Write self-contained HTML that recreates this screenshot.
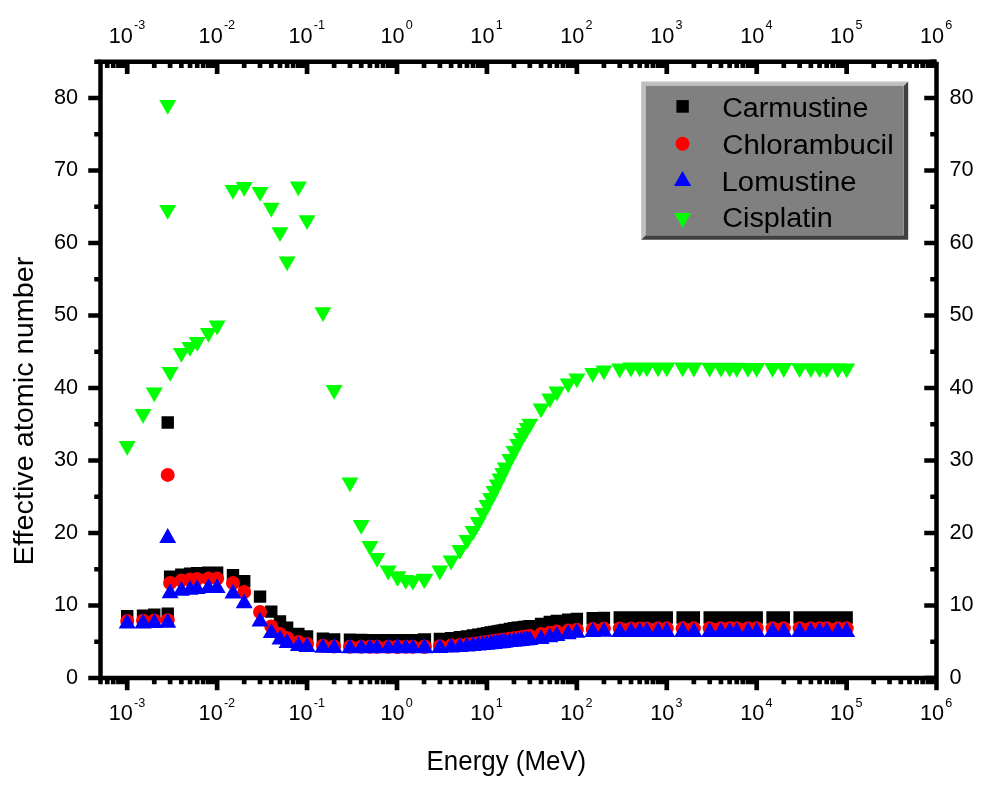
<!DOCTYPE html>
<html lang="en"><head><meta charset="utf-8"><title>Effective atomic number vs Energy</title>
<style>html,body{margin:0;padding:0;background:#fff}body{width:1000px;height:790px;overflow:hidden}svg{display:block}</style>
</head><body>
<svg width="1000" height="790" viewBox="0 0 1000 790" font-family="'Liberation Sans', sans-serif" fill="#000">
<rect width="1000" height="790" fill="#fff"/>
<path fill="#000" d="M121 610h12.4v12.4h-12.4zM136.84 609.4h12.4v12.4h-12.4zM148.07 608.4h12.4v12.4h-12.4zM161.52 607.4h12.4v12.4h-12.4zM161.52 416.3h12.4v12.4h-12.4zM163.91 570.6h12.4v12.4h-12.4zM175.14 568.6h12.4v12.4h-12.4zM183.86 567.6h12.4v12.4h-12.4zM190.98 567h12.4v12.4h-12.4zM202.21 566.4h12.4v12.4h-12.4zM210.93 566.4h12.4v12.4h-12.4zM226.77 569h12.4v12.4h-12.4zM238 575h12.4v12.4h-12.4zM253.84 590.4h12.4v12.4h-12.4zM265.07 605.4h12.4v12.4h-12.4zM273.79 615.2h12.4v12.4h-12.4zM280.91 621.5h12.4v12.4h-12.4zM292.14 627.8h12.4v12.4h-12.4zM300.86 630.2h12.4v12.4h-12.4zM316.7 632.4h12.4v12.4h-12.4zM327.93 633.2h12.4v12.4h-12.4zM343.77 633.5h12.4v12.4h-12.4zM355 633.8h12.4v12.4h-12.4zM363.72 634h12.4v12.4h-12.4zM370.84 634h12.4v12.4h-12.4zM382.07 634h12.4v12.4h-12.4zM390.79 634h12.4v12.4h-12.4zM391.64 634h12.4v12.4h-12.4zM399.51 634h12.4v12.4h-12.4zM406.63 634h12.4v12.4h-12.4zM417.86 633.2h12.4v12.4h-12.4zM418.71 633.18h12.4v12.4h-12.4zM433.7 632.75h12.4v12.4h-12.4zM444.93 632h12.4v12.4h-12.4zM453.65 631h12.4v12.4h-12.4zM460.77 630.2h12.4v12.4h-12.4zM466.79 629.29h12.4v12.4h-12.4zM472 628.5h12.4v12.4h-12.4zM476.61 627.71h12.4v12.4h-12.4zM480.72 627h12.4v12.4h-12.4zM484.44 626.37h12.4v12.4h-12.4zM487.84 625.79h12.4v12.4h-12.4zM490.97 625.25h12.4v12.4h-12.4zM493.86 624.76h12.4v12.4h-12.4zM496.56 624.3h12.4v12.4h-12.4zM499.08 623.73h12.4v12.4h-12.4zM503.68 622.7h12.4v12.4h-12.4zM507.79 622.1h12.4v12.4h-12.4zM511.51 621.6h12.4v12.4h-12.4zM514.91 621.2h12.4v12.4h-12.4zM518.04 620.8h12.4v12.4h-12.4zM520.93 620.4h12.4v12.4h-12.4zM523.63 620.1h12.4v12.4h-12.4zM534.86 617.75h12.4v12.4h-12.4zM543.58 615.8h12.4v12.4h-12.4zM550.7 614.75h12.4v12.4h-12.4zM561.93 613.5h12.4v12.4h-12.4zM570.65 612.8h12.4v12.4h-12.4zM586.49 612h12.4v12.4h-12.4zM597.72 611.75h12.4v12.4h-12.4zM613.56 611.3h12.4v12.4h-12.4zM624.79 611.3h12.4v12.4h-12.4zM633.51 611.3h12.4v12.4h-12.4zM640.63 611.3h12.4v12.4h-12.4zM651.86 611.3h12.4v12.4h-12.4zM660.58 611.3h12.4v12.4h-12.4zM676.42 611.3h12.4v12.4h-12.4zM687.65 611.3h12.4v12.4h-12.4zM703.49 611.3h12.4v12.4h-12.4zM714.72 611.3h12.4v12.4h-12.4zM723.44 611.3h12.4v12.4h-12.4zM730.56 611.3h12.4v12.4h-12.4zM741.79 611.3h12.4v12.4h-12.4zM750.51 611.3h12.4v12.4h-12.4zM766.35 611.3h12.4v12.4h-12.4zM777.58 611.3h12.4v12.4h-12.4zM793.42 611.3h12.4v12.4h-12.4zM804.65 611.3h12.4v12.4h-12.4zM813.37 611.3h12.4v12.4h-12.4zM820.49 611.3h12.4v12.4h-12.4zM831.72 611.3h12.4v12.4h-12.4zM840.44 611.3h12.4v12.4h-12.4z"/>
<g fill="#f00"><circle cx="127.2" cy="621" r="7"/><circle cx="143.04" cy="620.8" r="7"/><circle cx="154.27" cy="620.5" r="7"/><circle cx="167.72" cy="620.2" r="7"/><circle cx="167.72" cy="474.9" r="7"/><circle cx="170.11" cy="583" r="7"/><circle cx="181.34" cy="580.6" r="7"/><circle cx="190.06" cy="579.6" r="7"/><circle cx="197.18" cy="579" r="7"/><circle cx="208.41" cy="578.6" r="7"/><circle cx="217.13" cy="578.6" r="7"/><circle cx="232.97" cy="583" r="7"/><circle cx="244.2" cy="592" r="7"/><circle cx="260.04" cy="612" r="7"/><circle cx="271.27" cy="626.4" r="7"/><circle cx="279.99" cy="634" r="7"/><circle cx="287.11" cy="638" r="7"/><circle cx="298.34" cy="642" r="7"/><circle cx="307.06" cy="644" r="7"/><circle cx="322.9" cy="645.75" r="7"/><circle cx="334.13" cy="646.5" r="7"/><circle cx="349.97" cy="646.7" r="7"/><circle cx="361.2" cy="646.7" r="7"/><circle cx="369.92" cy="646.7" r="7"/><circle cx="377.04" cy="646.7" r="7"/><circle cx="388.27" cy="646.7" r="7"/><circle cx="396.99" cy="646.7" r="7"/><circle cx="397.84" cy="646.7" r="7"/><circle cx="405.71" cy="646.7" r="7"/><circle cx="412.83" cy="646.7" r="7"/><circle cx="424.06" cy="646.7" r="7"/><circle cx="424.91" cy="646.68" r="7"/><circle cx="439.9" cy="646.3" r="7"/><circle cx="451.13" cy="645.59" r="7"/><circle cx="459.85" cy="645.05" r="7"/><circle cx="466.97" cy="644.6" r="7"/><circle cx="472.99" cy="643.82" r="7"/><circle cx="478.2" cy="643.14" r="7"/><circle cx="482.81" cy="642.54" r="7"/><circle cx="486.92" cy="642" r="7"/><circle cx="490.64" cy="641.48" r="7"/><circle cx="494.04" cy="641.01" r="7"/><circle cx="497.17" cy="640.57" r="7"/><circle cx="500.06" cy="640.17" r="7"/><circle cx="502.76" cy="639.79" r="7"/><circle cx="505.28" cy="639.44" r="7"/><circle cx="509.88" cy="638.8" r="7"/><circle cx="513.99" cy="638.22" r="7"/><circle cx="517.71" cy="637.7" r="7"/><circle cx="521.11" cy="637.22" r="7"/><circle cx="524.24" cy="636.78" r="7"/><circle cx="527.13" cy="636.38" r="7"/><circle cx="529.83" cy="636" r="7"/><circle cx="541.06" cy="634" r="7"/><circle cx="549.78" cy="632.68" r="7"/><circle cx="556.9" cy="631.6" r="7"/><circle cx="568.13" cy="630.59" r="7"/><circle cx="576.85" cy="629.8" r="7"/><circle cx="592.69" cy="628.9" r="7"/><circle cx="603.92" cy="628.6" r="7"/><circle cx="619.76" cy="628.4" r="7"/><circle cx="630.99" cy="628.39" r="7"/><circle cx="639.71" cy="628.38" r="7"/><circle cx="646.83" cy="628.38" r="7"/><circle cx="658.06" cy="628.37" r="7"/><circle cx="666.78" cy="628.36" r="7"/><circle cx="682.62" cy="628.34" r="7"/><circle cx="693.85" cy="628.33" r="7"/><circle cx="709.69" cy="628.32" r="7"/><circle cx="720.92" cy="628.31" r="7"/><circle cx="729.64" cy="628.3" r="7"/><circle cx="736.76" cy="628.3" r="7"/><circle cx="747.99" cy="628.29" r="7"/><circle cx="756.71" cy="628.28" r="7"/><circle cx="772.55" cy="628.27" r="7"/><circle cx="783.78" cy="628.26" r="7"/><circle cx="799.62" cy="628.24" r="7"/><circle cx="810.85" cy="628.23" r="7"/><circle cx="819.57" cy="628.22" r="7"/><circle cx="826.69" cy="628.22" r="7"/><circle cx="837.92" cy="628.21" r="7"/><circle cx="846.64" cy="628.2" r="7"/></g>
<path fill="#00f" d="M127.2 613.8l8.5 14.8h-17zM143.04 613.6l8.5 14.8h-17zM154.27 613.3l8.5 14.8h-17zM167.72 612.9l8.5 14.8h-17zM167.72 528.1l8.5 14.8h-17zM170.11 583.5l8.5 14.8h-17zM181.34 580.9l8.5 14.8h-17zM190.06 579.9l8.5 14.8h-17zM197.18 579.3l8.5 14.8h-17zM208.41 578.3l8.5 14.8h-17zM217.13 578.3l8.5 14.8h-17zM232.97 583.8l8.5 14.8h-17zM244.2 593.5l8.5 14.8h-17zM260.04 611.8l8.5 14.8h-17zM271.27 623.3l8.5 14.8h-17zM279.99 629.7l8.5 14.8h-17zM287.11 633.3l8.5 14.8h-17zM298.34 636.3l8.5 14.8h-17zM307.06 637.1l8.5 14.8h-17zM322.9 638l8.5 14.8h-17zM334.13 638.3l8.5 14.8h-17zM349.97 638.5l8.5 14.8h-17zM361.2 638.5l8.5 14.8h-17zM369.92 638.5l8.5 14.8h-17zM377.04 638.5l8.5 14.8h-17zM388.27 638.5l8.5 14.8h-17zM396.99 638.5l8.5 14.8h-17zM397.84 638.5l8.5 14.8h-17zM405.71 638.5l8.5 14.8h-17zM412.83 638.5l8.5 14.8h-17zM424.06 638.5l8.5 14.8h-17zM424.91 638.49l8.5 14.8h-17zM439.9 638.3l8.5 14.8h-17zM451.13 637.68l8.5 14.8h-17zM459.85 637.19l8.5 14.8h-17zM466.97 636.8l8.5 14.8h-17zM472.99 636.23l8.5 14.8h-17zM478.2 635.73l8.5 14.8h-17zM482.81 635.29l8.5 14.8h-17zM486.92 634.9l8.5 14.8h-17zM490.64 634.48l8.5 14.8h-17zM494.04 634.09l8.5 14.8h-17zM497.17 633.74l8.5 14.8h-17zM500.06 633.41l8.5 14.8h-17zM502.76 633.11l8.5 14.8h-17zM505.28 632.82l8.5 14.8h-17zM509.88 632.3l8.5 14.8h-17zM513.99 631.87l8.5 14.8h-17zM517.71 631.48l8.5 14.8h-17zM521.11 631.12l8.5 14.8h-17zM524.24 630.79l8.5 14.8h-17zM527.13 630.48l8.5 14.8h-17zM529.83 630.2l8.5 14.8h-17zM541.06 629.3l8.5 14.8h-17zM549.78 627.54l8.5 14.8h-17zM556.9 626.1l8.5 14.8h-17zM568.13 624.35l8.5 14.8h-17zM576.85 623l8.5 14.8h-17zM592.69 622.2l8.5 14.8h-17zM603.92 621.9l8.5 14.8h-17zM619.76 622.1l8.5 14.8h-17zM630.99 622.1l8.5 14.8h-17zM639.71 622.1l8.5 14.8h-17zM646.83 622.1l8.5 14.8h-17zM658.06 622.1l8.5 14.8h-17zM666.78 622.1l8.5 14.8h-17zM682.62 622.1l8.5 14.8h-17zM693.85 622.1l8.5 14.8h-17zM709.69 622.1l8.5 14.8h-17zM720.92 622.1l8.5 14.8h-17zM729.64 622.1l8.5 14.8h-17zM736.76 622.1l8.5 14.8h-17zM747.99 622.1l8.5 14.8h-17zM756.71 622.1l8.5 14.8h-17zM772.55 622.1l8.5 14.8h-17zM783.78 622.1l8.5 14.8h-17zM799.62 622.1l8.5 14.8h-17zM810.85 622.1l8.5 14.8h-17zM819.57 622.1l8.5 14.8h-17zM826.69 622.1l8.5 14.8h-17zM837.92 622.1l8.5 14.8h-17zM846.64 622.1l8.5 14.8h-17z"/>
<path fill="#0f0" d="M118.7 441h17l-8.5 14.8zM134.54 409h17l-8.5 14.8zM145.77 387.4h17l-8.5 14.8zM159.22 100h17l-8.5 14.8zM159.22 205h17l-8.5 14.8zM161.61 367h17l-8.5 14.8zM172.84 348h17l-8.5 14.8zM181.56 342h17l-8.5 14.8zM188.68 337h17l-8.5 14.8zM199.91 328h17l-8.5 14.8zM208.63 320.6h17l-8.5 14.8zM224.47 185h17l-8.5 14.8zM235.7 182h17l-8.5 14.8zM251.54 187h17l-8.5 14.8zM262.77 202.8h17l-8.5 14.8zM271.49 227.2h17l-8.5 14.8zM278.61 256.4h17l-8.5 14.8zM289.84 181.5h17l-8.5 14.8zM298.56 215.2h17l-8.5 14.8zM314.4 307.2h17l-8.5 14.8zM325.63 385h17l-8.5 14.8zM341.47 477.4h17l-8.5 14.8zM352.7 520h17l-8.5 14.8zM361.42 541h17l-8.5 14.8zM368.54 553h17l-8.5 14.8zM379.77 565.6h17l-8.5 14.8zM388.49 571.2h17l-8.5 14.8zM389.34 571.6h17l-8.5 14.8zM397.21 575h17l-8.5 14.8zM404.33 575.8h17l-8.5 14.8zM415.56 574h17l-8.5 14.8zM416.41 573.8h17l-8.5 14.8zM431.4 565.6h17l-8.5 14.8zM442.63 555.6h17l-8.5 14.8zM451.35 545h17l-8.5 14.8zM458.47 535h17l-8.5 14.8zM464.49 526h17l-8.5 14.8zM469.7 517h17l-8.5 14.8zM474.31 508h17l-8.5 14.8zM478.42 500h17l-8.5 14.8zM482.14 493h17l-8.5 14.8zM485.54 486h17l-8.5 14.8zM488.67 479.6h17l-8.5 14.8zM491.56 473.6h17l-8.5 14.8zM494.26 468h17l-8.5 14.8zM496.78 462.6h17l-8.5 14.8zM501.38 454h17l-8.5 14.8zM505.49 446h17l-8.5 14.8zM509.21 439h17l-8.5 14.8zM512.61 433h17l-8.5 14.8zM515.74 428h17l-8.5 14.8zM518.63 423h17l-8.5 14.8zM521.33 418.8h17l-8.5 14.8zM532.56 403.4h17l-8.5 14.8zM541.28 393.4h17l-8.5 14.8zM548.4 386.6h17l-8.5 14.8zM559.63 378.4h17l-8.5 14.8zM568.35 373.4h17l-8.5 14.8zM584.19 368h17l-8.5 14.8zM595.42 365.4h17l-8.5 14.8zM611.26 363.6h17l-8.5 14.8zM622.49 362.6h17l-8.5 14.8zM631.21 362.4h17l-8.5 14.8zM638.33 362.4h17l-8.5 14.8zM649.56 362.4h17l-8.5 14.8zM658.28 362.4h17l-8.5 14.8zM674.12 362.51h17l-8.5 14.8zM685.35 362.58h17l-8.5 14.8zM701.19 362.69h17l-8.5 14.8zM712.42 362.76h17l-8.5 14.8zM721.14 362.82h17l-8.5 14.8zM728.26 362.87h17l-8.5 14.8zM739.49 362.94h17l-8.5 14.8zM748.21 363h17l-8.5 14.8zM764.05 363.07h17l-8.5 14.8zM775.28 363.12h17l-8.5 14.8zM791.12 363.19h17l-8.5 14.8zM802.35 363.24h17l-8.5 14.8zM811.07 363.28h17l-8.5 14.8zM818.19 363.31h17l-8.5 14.8zM829.42 363.36h17l-8.5 14.8zM838.14 363.4h17l-8.5 14.8z"/>
<path fill="none" stroke="#000" stroke-width="4.7" d="M107.25 61.75V68M107.25 678V684.25M113.27 61.75V68M113.27 678V684.25M118.48 61.75V68M118.48 678V684.25M123.09 61.75V68M123.09 678V684.25M127.2 61.75V74M127.2 678V690.25M154.27 61.75V68M154.27 678V684.25M170.11 61.75V68M170.11 678V684.25M181.34 61.75V68M181.34 678V684.25M190.06 61.75V68M190.06 678V684.25M197.18 61.75V68M197.18 678V684.25M203.2 61.75V68M203.2 678V684.25M208.41 61.75V68M208.41 678V684.25M213.02 61.75V68M213.02 678V684.25M217.13 61.75V74M217.13 678V690.25M244.2 61.75V68M244.2 678V684.25M260.04 61.75V68M260.04 678V684.25M271.27 61.75V68M271.27 678V684.25M279.99 61.75V68M279.99 678V684.25M287.11 61.75V68M287.11 678V684.25M293.13 61.75V68M293.13 678V684.25M298.34 61.75V68M298.34 678V684.25M302.95 61.75V68M302.95 678V684.25M307.06 61.75V74M307.06 678V690.25M334.13 61.75V68M334.13 678V684.25M349.97 61.75V68M349.97 678V684.25M361.2 61.75V68M361.2 678V684.25M369.92 61.75V68M369.92 678V684.25M377.04 61.75V68M377.04 678V684.25M383.06 61.75V68M383.06 678V684.25M388.27 61.75V68M388.27 678V684.25M392.88 61.75V68M392.88 678V684.25M396.99 61.75V74M396.99 678V690.25M424.06 61.75V68M424.06 678V684.25M439.9 61.75V68M439.9 678V684.25M451.13 61.75V68M451.13 678V684.25M459.85 61.75V68M459.85 678V684.25M466.97 61.75V68M466.97 678V684.25M472.99 61.75V68M472.99 678V684.25M478.2 61.75V68M478.2 678V684.25M482.81 61.75V68M482.81 678V684.25M486.92 61.75V74M486.92 678V690.25M513.99 61.75V68M513.99 678V684.25M529.83 61.75V68M529.83 678V684.25M541.06 61.75V68M541.06 678V684.25M549.78 61.75V68M549.78 678V684.25M556.9 61.75V68M556.9 678V684.25M562.92 61.75V68M562.92 678V684.25M568.13 61.75V68M568.13 678V684.25M572.74 61.75V68M572.74 678V684.25M576.85 61.75V74M576.85 678V690.25M603.92 61.75V68M603.92 678V684.25M619.76 61.75V68M619.76 678V684.25M630.99 61.75V68M630.99 678V684.25M639.71 61.75V68M639.71 678V684.25M646.83 61.75V68M646.83 678V684.25M652.85 61.75V68M652.85 678V684.25M658.06 61.75V68M658.06 678V684.25M662.67 61.75V68M662.67 678V684.25M666.78 61.75V74M666.78 678V690.25M693.85 61.75V68M693.85 678V684.25M709.69 61.75V68M709.69 678V684.25M720.92 61.75V68M720.92 678V684.25M729.64 61.75V68M729.64 678V684.25M736.76 61.75V68M736.76 678V684.25M742.78 61.75V68M742.78 678V684.25M747.99 61.75V68M747.99 678V684.25M752.6 61.75V68M752.6 678V684.25M756.71 61.75V74M756.71 678V690.25M783.78 61.75V68M783.78 678V684.25M799.62 61.75V68M799.62 678V684.25M810.85 61.75V68M810.85 678V684.25M819.57 61.75V68M819.57 678V684.25M826.69 61.75V68M826.69 678V684.25M832.71 61.75V68M832.71 678V684.25M837.92 61.75V68M837.92 678V684.25M842.53 61.75V68M842.53 678V684.25M846.64 61.75V74M846.64 678V690.25M873.71 61.75V68M873.71 678V684.25M889.55 61.75V68M889.55 678V684.25M900.78 61.75V68M900.78 678V684.25M909.5 61.75V68M909.5 678V684.25M916.62 61.75V68M916.62 678V684.25M922.64 61.75V68M922.64 678V684.25M927.85 61.75V68M927.85 678V684.25M932.46 61.75V68M932.46 678V684.25M100.5 678H88.25M936.5 678H924.25M100.5 641.75H94.25M936.5 641.75H930.25M100.5 605.5H88.25M936.5 605.5H924.25M100.5 569.25H94.25M936.5 569.25H930.25M100.5 533H88.25M936.5 533H924.25M100.5 496.75H94.25M936.5 496.75H930.25M100.5 460.5H88.25M936.5 460.5H924.25M100.5 424.25H94.25M936.5 424.25H930.25M100.5 388H88.25M936.5 388H924.25M100.5 351.75H94.25M936.5 351.75H930.25M100.5 315.5H88.25M936.5 315.5H924.25M100.5 279.25H94.25M936.5 279.25H930.25M100.5 243H88.25M936.5 243H924.25M100.5 206.75H94.25M936.5 206.75H930.25M100.5 170.5H88.25M936.5 170.5H924.25M100.5 134.25H94.25M936.5 134.25H930.25M100.5 98H88.25M936.5 98H924.25M100.5 61.75H94.25M936.5 61.75H930.25"/>
<path fill="none" stroke="#000" stroke-width="4.5" d="M100.5 678V684.25M936.5 678V690.25M98.25 61.75H936.5M98.25 678H938.75M100.5 59.5V680.25M936.5 61.75V680.25"/>
<text x="108.65" y="42.5" font-size="21.7">10</text><text x="133.95" y="29" font-size="12.6">-3</text>
<text x="108.65" y="720.2" font-size="21.7">10</text><text x="133.95" y="706.7" font-size="12.6">-3</text>
<text x="198.58" y="42.5" font-size="21.7">10</text><text x="223.88" y="29" font-size="12.6">-2</text>
<text x="198.58" y="720.2" font-size="21.7">10</text><text x="223.88" y="706.7" font-size="12.6">-2</text>
<text x="288.51" y="42.5" font-size="21.7">10</text><text x="313.81" y="29" font-size="12.6">-1</text>
<text x="288.51" y="720.2" font-size="21.7">10</text><text x="313.81" y="706.7" font-size="12.6">-1</text>
<text x="380.44" y="42.5" font-size="21.7">10</text><text x="405.74" y="29" font-size="12.6">0</text>
<text x="380.44" y="720.2" font-size="21.7">10</text><text x="405.74" y="706.7" font-size="12.6">0</text>
<text x="470.37" y="42.5" font-size="21.7">10</text><text x="495.67" y="29" font-size="12.6">1</text>
<text x="470.37" y="720.2" font-size="21.7">10</text><text x="495.67" y="706.7" font-size="12.6">1</text>
<text x="560.3" y="42.5" font-size="21.7">10</text><text x="585.6" y="29" font-size="12.6">2</text>
<text x="560.3" y="720.2" font-size="21.7">10</text><text x="585.6" y="706.7" font-size="12.6">2</text>
<text x="650.23" y="42.5" font-size="21.7">10</text><text x="675.53" y="29" font-size="12.6">3</text>
<text x="650.23" y="720.2" font-size="21.7">10</text><text x="675.53" y="706.7" font-size="12.6">3</text>
<text x="740.16" y="42.5" font-size="21.7">10</text><text x="765.46" y="29" font-size="12.6">4</text>
<text x="740.16" y="720.2" font-size="21.7">10</text><text x="765.46" y="706.7" font-size="12.6">4</text>
<text x="830.09" y="42.5" font-size="21.7">10</text><text x="855.39" y="29" font-size="12.6">5</text>
<text x="830.09" y="720.2" font-size="21.7">10</text><text x="855.39" y="706.7" font-size="12.6">5</text>
<text x="920.02" y="42.5" font-size="21.7">10</text><text x="945.32" y="29" font-size="12.6">6</text>
<text x="920.02" y="720.2" font-size="21.7">10</text><text x="945.32" y="706.7" font-size="12.6">6</text>
<text x="78.1" y="683.5" font-size="21.7" text-anchor="end">0</text>
<text x="949.5" y="683.5" font-size="21.7">0</text>
<text x="78.1" y="611" font-size="21.7" text-anchor="end">10</text>
<text x="949.5" y="611" font-size="21.7">10</text>
<text x="78.1" y="538.5" font-size="21.7" text-anchor="end">20</text>
<text x="949.5" y="538.5" font-size="21.7">20</text>
<text x="78.1" y="466" font-size="21.7" text-anchor="end">30</text>
<text x="949.5" y="466" font-size="21.7">30</text>
<text x="78.1" y="393.5" font-size="21.7" text-anchor="end">40</text>
<text x="949.5" y="393.5" font-size="21.7">40</text>
<text x="78.1" y="321" font-size="21.7" text-anchor="end">50</text>
<text x="949.5" y="321" font-size="21.7">50</text>
<text x="78.1" y="248.5" font-size="21.7" text-anchor="end">60</text>
<text x="949.5" y="248.5" font-size="21.7">60</text>
<text x="78.1" y="176" font-size="21.7" text-anchor="end">70</text>
<text x="949.5" y="176" font-size="21.7">70</text>
<text x="78.1" y="103.5" font-size="21.7" text-anchor="end">80</text>
<text x="949.5" y="103.5" font-size="21.7">80</text>
<text x="426.6" y="770.4" font-size="28.2" textLength="159.6" lengthAdjust="spacingAndGlyphs">Energy (MeV)</text>
<text transform="translate(33 565.2) rotate(-90)" font-size="28.3" textLength="308.5" lengthAdjust="spacingAndGlyphs">Effective atomic number</text>
<path fill="#c0c0c0" d="M641.2 81.4H908.2L903.7 85.9H645.7V235.3L641.2 239.8z"/>
<path fill="#404040" d="M908.2 81.4V239.8H641.2L645.7 235.3H903.7V85.9z"/>
<rect fill="#808080" x="645.7" y="85.9" width="258" height="149.4"/>
<rect x="676.4" y="100.1" width="12.4" height="12.6" fill="#000"/>
<circle cx="682.55" cy="143.7" r="7" fill="#f00"/>
<path fill="#00f" d="M682.55 170.9l8.6 15.1h-17.2z"/>
<path fill="#0f0" d="M674.1 213h16.9l-8.45 14.8z"/>
<text x="722.2" y="116.6" font-size="28.2" textLength="146.2" lengthAdjust="spacingAndGlyphs">Carmustine</text>
<text x="722.2" y="153.5" font-size="28.2" textLength="171.5" lengthAdjust="spacingAndGlyphs">Chlorambucil</text>
<text x="721.6" y="190.5" font-size="28.2" textLength="135" lengthAdjust="spacingAndGlyphs">Lomustine</text>
<text x="722.2" y="227.4" font-size="28.2" textLength="110.5" lengthAdjust="spacingAndGlyphs">Cisplatin</text>
</svg>
</body></html>
